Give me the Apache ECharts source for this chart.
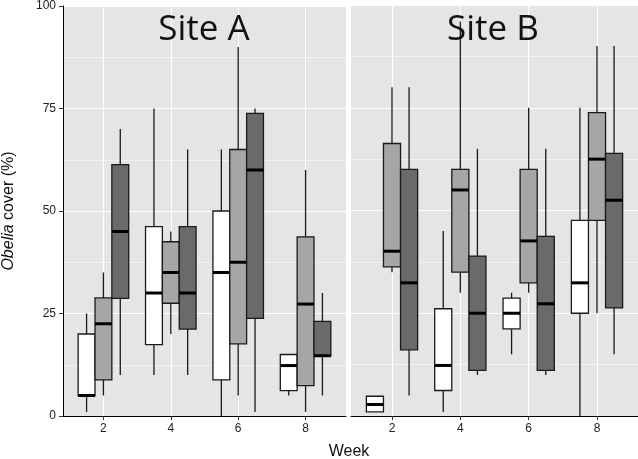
<!DOCTYPE html>
<html>
<head>
<meta charset="utf-8">
<script src="https://cdn.jsdelivr.net/npm/echarts@6/dist/echarts.min.js"></script>
<style>html,body{margin:0;padding:0;background:#fff}#c{width:638px;height:459px}</style>
</head>
<body>
<div id="c"></div>
<script>
// Data: each entry = [lower whisker, Q1, median, Q3, upper whisker], one per week
const weeks = [2, 4, 6, 8];
const yTicks = [0, 25, 50, 75, 100];
const sites = ['Site A', 'Site B'];
const siteA_white = [[1, 5, 5, 20, 25], [10, 17.4, 30, 46.2, 75], [0, 8.8, 35, 50, 65], [5, 6.2, 12.3, 15, 15]];
const siteA_light = [[5, 8.8, 22.5, 28.8, 35], [20, 27.5, 35, 42.5, 45], [5, 17.6, 37.5, 65, 90], [1, 7.4, 27.3, 43.7, 60]];
const siteA_dark  = [[10, 28.7, 45, 61.3, 70], [10, 21.2, 30, 46.2, 65], [1, 23.8, 60, 73.8, 75], [5, 14.7, 14.7, 23.1, 30]];
const siteB_white = [[1, 1, 2.8, 4.8, 4.8], [1, 6.2, 12.3, 26.1, 45], [15, 21.2, 25, 28.7, 30], [0, 25, 32.4, 47.6, 75]];
const siteB_light = [[35, 36.3, 40.1, 66.3, 80], [30, 35, 55, 60, 96], [30, 32.4, 42.6, 60, 75], [25, 47.6, 62.5, 73.8, 90]];
const siteB_dark  = [[5, 16.1, 32.4, 60, 80], [10, 11.1, 25, 38.9, 65], [10, 11.1, 27.3, 43.7, 65], [15, 26.3, 52.5, 63.9, 90]];

const groupColors = ['#ffffff', '#a6a6a6', '#6a6a6a'];
const offsets = [-0.5, 0, 0.5];
const boxW = 0.5;

function makeRender(fill) {
  return function (params, api) {
    const x = api.value(0);
    const lo = api.value(1), q1 = api.value(2), md = api.value(3), q3 = api.value(4), hi = api.value(5);
    const w = api.size([boxW, 0])[0];
    const pHi = api.coord([x, hi]), pQ3 = api.coord([x, q3]), pMd = api.coord([x, md]),
          pQ1 = api.coord([x, q1]), pLo = api.coord([x, lo]);
    const cx = pMd[0];
    const stroke = '#1a1a1a';
    return {
      type: 'group',
      children: [
        { type: 'line', shape: { x1: cx, y1: pHi[1], x2: cx, y2: pQ3[1] }, style: { stroke: stroke, lineWidth: 1.3 } },
        { type: 'line', shape: { x1: cx, y1: pQ1[1], x2: cx, y2: pLo[1] }, style: { stroke: stroke, lineWidth: 1.3 } },
        { type: 'rect', shape: { x: cx - w / 2, y: pQ3[1], width: w, height: pQ1[1] - pQ3[1] }, style: { fill: fill, stroke: stroke, lineWidth: 1.3 } },
        { type: 'line', shape: { x1: cx - w / 2, y1: pMd[1], x2: cx + w / 2, y2: pMd[1] }, style: { stroke: '#000', lineWidth: 3 } }
      ]
    };
  };
}

const siteData = [[siteA_white, siteA_light, siteA_dark], [siteB_white, siteB_light, siteB_dark]];
const series = [];
siteData.forEach((groups, s) => {
  groups.forEach((arr, g) => {
    series.push({
      type: 'custom',
      xAxisIndex: s, yAxisIndex: s,
      renderItem: makeRender(groupColors[g]),
      encode: { x: 0, y: [1, 5] },
      clip: false,
      data: weeks.map((wk, i) => [wk + offsets[g]].concat(arr[i]))
    });
  });
});

const font = '"Liberation Sans", Arial, sans-serif';
function xAxis(i) {
  return {
    type: 'value', gridIndex: i, min: 0.8, max: 9.2,
    axisLine: { show: true, onZero: false, lineStyle: { color: '#000', width: 1 } },
    axisTick: { show: true, customValues: weeks, length: 4, lineStyle: { color: '#333' } },
    axisLabel: { customValues: weeks, color: '#222', fontSize: 12, fontFamily: font, margin: 7 },
    splitLine: { show: true, lineStyle: { color: '#ffffff', width: 1 } }
  };
}
function yAxis(i) {
  return {
    type: 'value', gridIndex: i, min: 0, max: 100, interval: 25,
    axisLine: { show: i === 0, lineStyle: { color: '#000', width: 1 } },
    axisTick: { show: i === 0, length: 4, lineStyle: { color: '#333' } },
    axisLabel: { show: i === 0, color: '#222', fontSize: 12, fontFamily: font, margin: 7 },
    splitLine: { show: true, lineStyle: { color: '#ffffff', width: 1 } },
    minorTick: { show: false, splitNumber: 2 },
    minorSplitLine: { show: true, lineStyle: { color: 'rgba(255,255,255,0.55)', width: 1 } },
    name: i === 0 ? '{i|Obelia} cover (%)' : '',
    nameLocation: 'middle', nameGap: 46,
    nameTextStyle: { fontSize: 16, fontFamily: font, color: '#111',
      rich: { i: { fontStyle: 'italic', fontSize: 16, fontFamily: font, color: '#111' } } }
  };
}

const chart = echarts.init(document.getElementById('c'), null, { renderer: 'canvas' });
chart.setOption({
  animation: false,
  backgroundColor: '#ffffff',
  grid: [
    { left: 60, right: 292, top: 5, bottom: 43, show: true, backgroundColor: '#e5e5e5', borderWidth: 0 },
    { left: 351, right: 0, top: 5, bottom: 43, show: true, backgroundColor: '#e5e5e5', borderWidth: 0 }
  ],
  xAxis: [xAxis(0), xAxis(1)],
  yAxis: [yAxis(0), yAxis(1)],
  series: series,
  graphic: [
    { type: 'text', style: { text: sites[0], fontSize: 35, fontFamily: '"Open Sans", sans-serif', fill: '#111', align: 'center', verticalAlign: 'middle' }, x: 204, y: 30, z: 100 },
    { type: 'text', style: { text: sites[1], fontSize: 35, fontFamily: '"Open Sans", sans-serif', fill: '#111', align: 'center', verticalAlign: 'middle' }, x: 493, y: 30, z: 100 },
    { type: 'text', style: { text: 'Week', fontSize: 16, fontFamily: font, fill: '#111', align: 'center', verticalAlign: 'middle' }, x: 349, y: 452, z: 100 }
  ]
});
</script>
</body>
</html>
